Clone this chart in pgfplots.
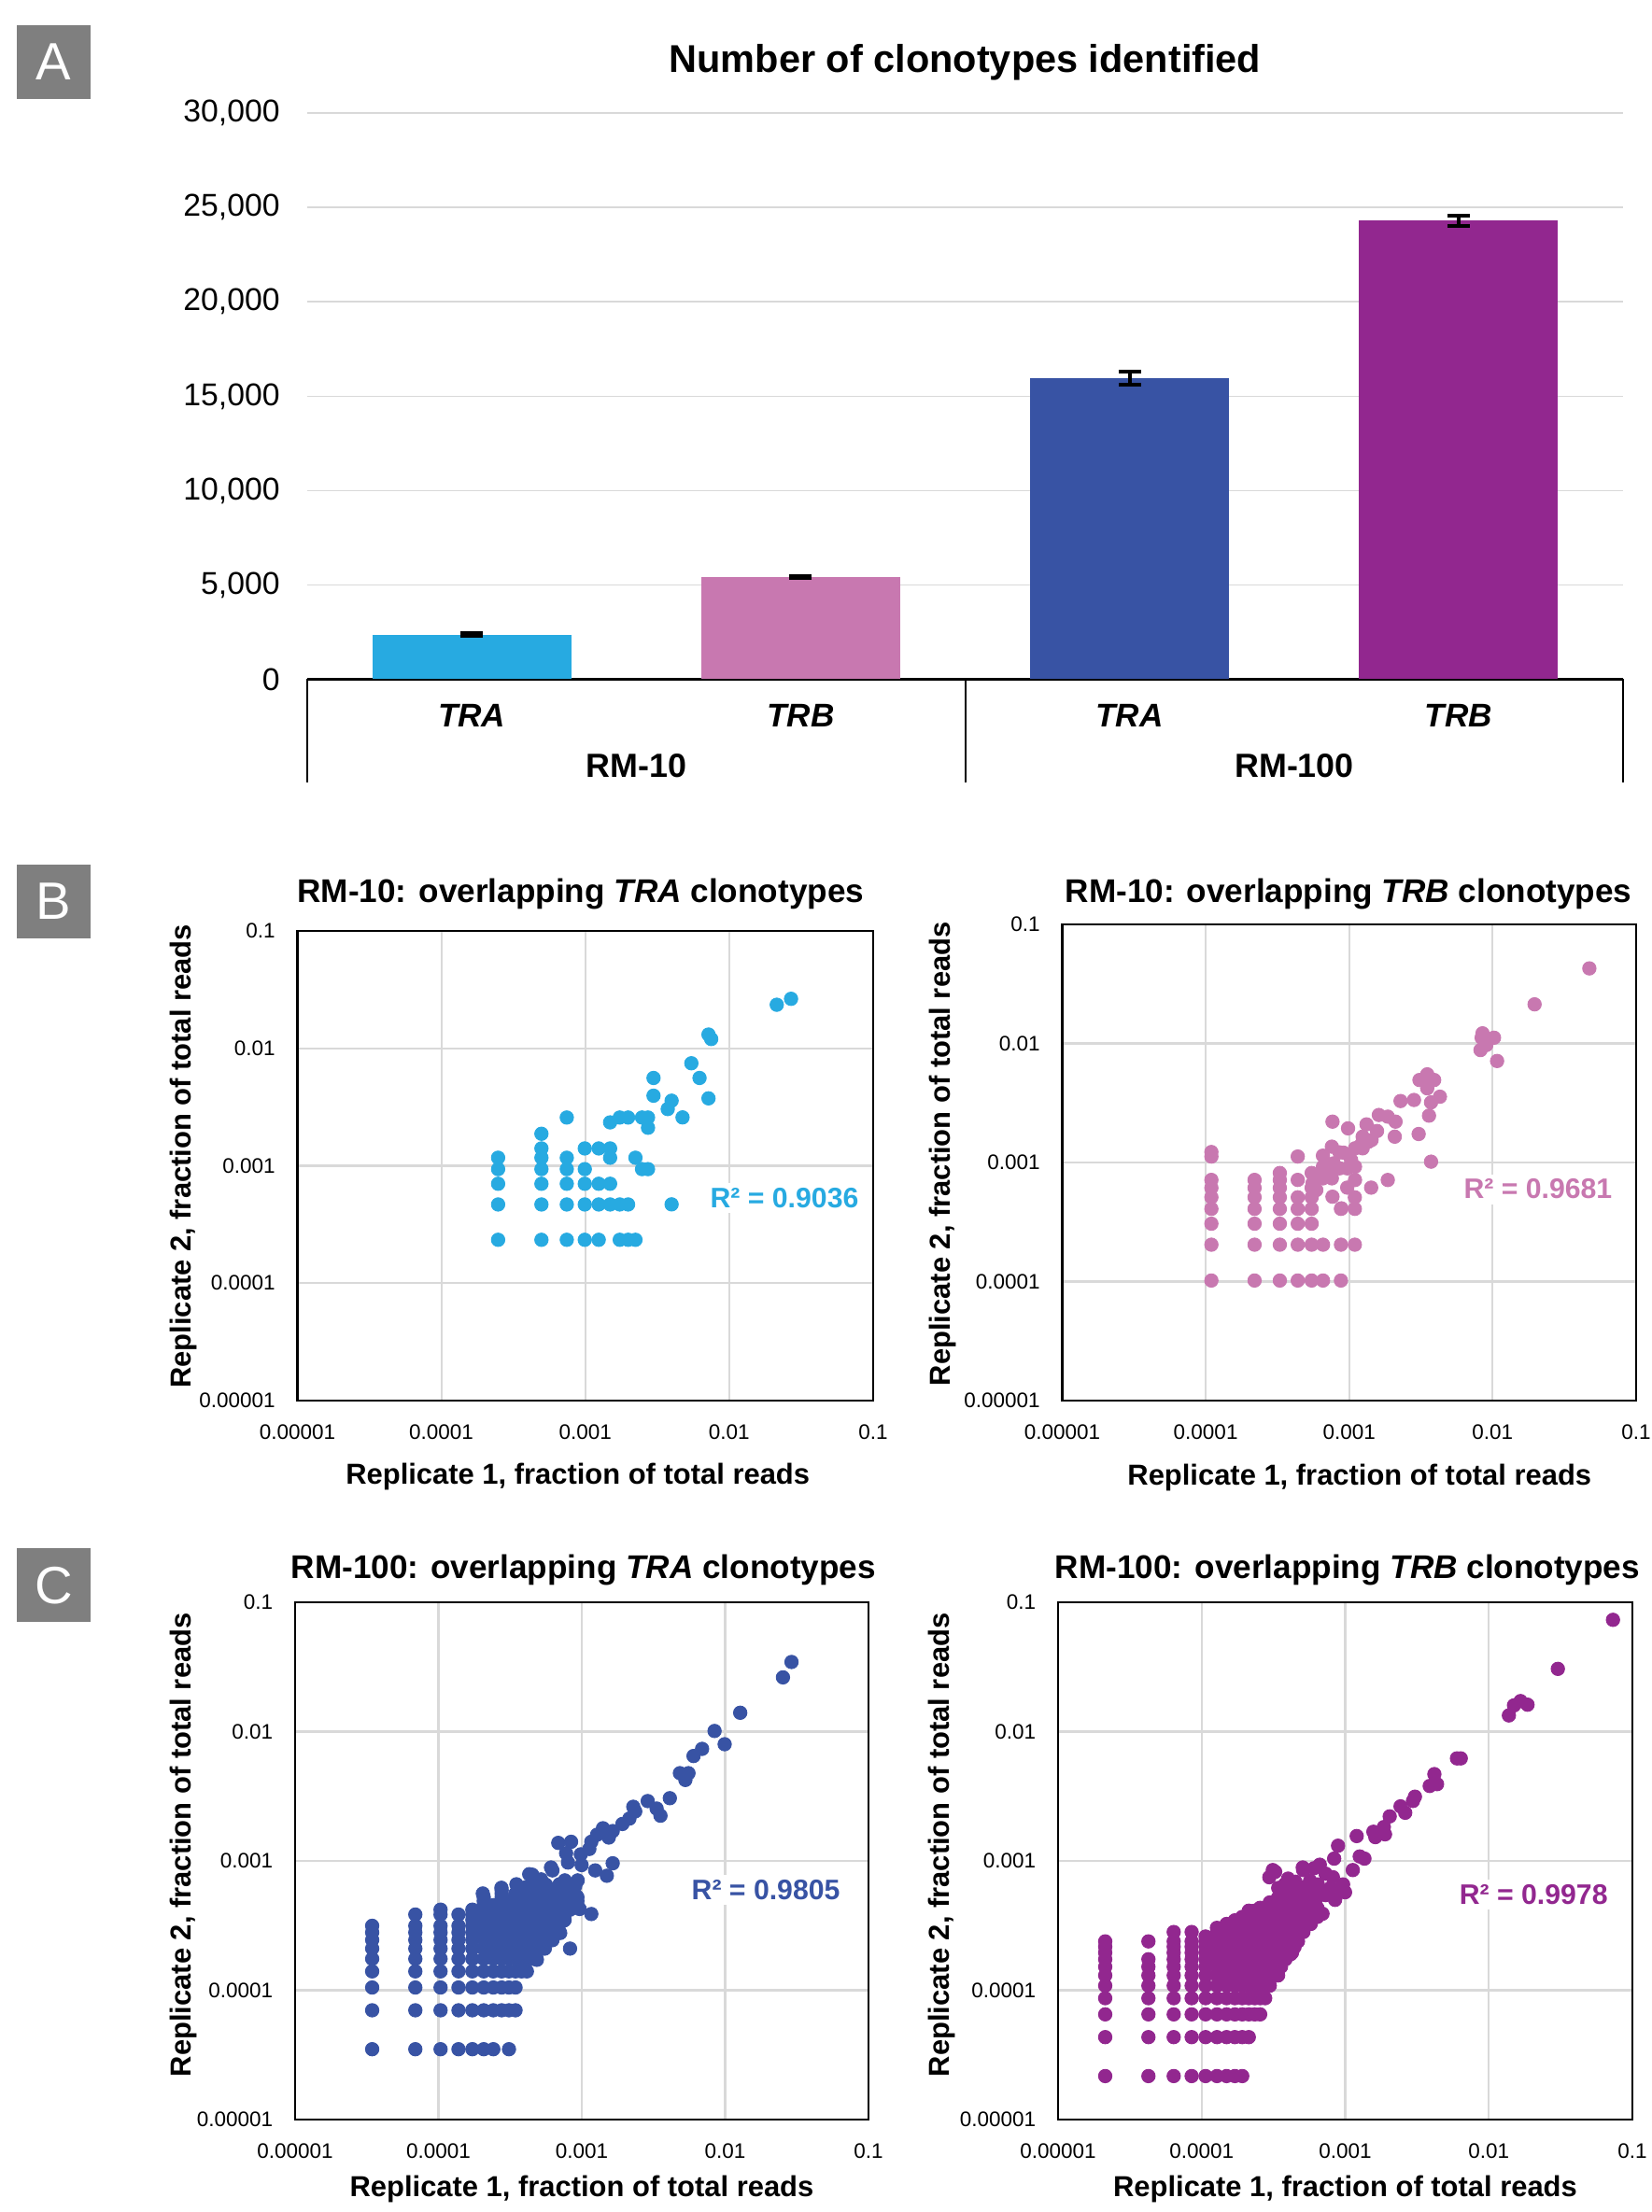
\documentclass[border=0pt]{standalone}
\usepackage{fontspec}
\setmainfont{Liberation Sans}
\usepackage{pgfplots}
\pgfplotsset{compat=1.18}
\definecolor{cA}{RGB}{39,170,225}
\definecolor{cB}{RGB}{200,120,176}
\definecolor{cC}{RGB}{56,83,164}
\definecolor{cD}{RGB}{146,39,143}
\definecolor{gridc}{RGB}{217,217,217}
\definecolor{boxg}{RGB}{127,127,127}
\newcommand{\fs}[1]{\fontsize{#1}{#1}\selectfont}
\pgfplotsset{
  myscat/.style={
    scale only axis,
    xmin=1e-5, xmax=0.1, ymin=1e-5, ymax=0.1,
    xtick={1e-5,1e-4,1e-3,1e-2,1e-1}, ytick={1e-5,1e-4,1e-3,1e-2,1e-1},
    xticklabels={0.00001,0.0001,0.001,0.01,0.1},
    yticklabels={0.00001,0.0001,0.001,0.01,0.1},
    grid=major, major grid style={draw=gridc, line width=0.6pt},
    axis line style={black, line width=0.6pt},
    major tick length=0pt, minor tick length=0pt,
    tick label style={font=\fs{6.4}},
    xticklabel style={yshift=-0.135cm},
    yticklabel style={xshift=-0.115cm},
    xlabel={Replicate 1, fraction of total reads},
    ylabel={Replicate 2, fraction of total reads},
    label style={font=\fs{8.8}\bfseries},
    every axis title shift=0pt,
    title style={font=\fs{10}\bfseries, anchor=center},
    xlabel style={anchor=center},
    ylabel style={anchor=center},
  },
  mydots/.style={only marks, mark=*, mark size=2.05pt, color=#1, mark options={fill=#1, draw=#1, line width=0.25pt}},
  mybar/.style={ybar, bar width=2.13cm, draw=none, fill=#1,
    error bars/y dir=both, error bars/y explicit,
    error bars/error bar style={draw=black, line width=1.2pt},
    error bars/error mark options={draw=black, line width=1.2pt, mark size=0.12cm, rotate=90}},
}
\begin{document}
\begin{tikzpicture}
\useasboundingbox (0,0) rectangle (17.69,23.69);
% panel letters
\node[fill=boxg, minimum width=0.79cm, minimum height=0.79cm, inner sep=0pt, text=white, font=\fs{16}] at (0.575,23.025) {A};
\node[fill=boxg, minimum width=0.79cm, minimum height=0.79cm, inner sep=0pt, text=white, font=\fs{16}] at (0.575,14.035) {B};
\node[fill=boxg, minimum width=0.79cm, minimum height=0.79cm, inner sep=0pt, text=white, font=\fs{16}] at (0.575,6.71) {C};
% ---------------- Panel A
\node[font=\fs{11.8}\bfseries] at (10.335,23.02) {Number of clonotypes identified};
\begin{axis}[at={(3.29cm,16.415cm)}, anchor=south west, scale only axis,
  width=14.09cm, height=6.062cm,
  xmin=-0.5, xmax=3.5, ymin=0, ymax=30000,
  xtick={0,1,2,3}, xticklabels={TRA,TRB,TRA,TRB},
  ytick={0,5000,10000,15000,20000,25000,30000},
  yticklabels={0,{5,000},{10,000},{15,000},{20,000},{25,000},{30,000}},
  scaled y ticks=false,
  axis x line*=bottom, axis y line*=left,
  y axis line style={draw=none},
  x axis line style={black, line width=0.6pt},
  major tick length=0pt,
  ymajorgrids, major grid style={draw=gridc, line width=0.5pt},
  xticklabel style={font=\fs{10}\bfseries\itshape, yshift=-0.145cm},
  yticklabel style={font=\fs{9.6}, xshift=-0.17cm},
  clip=false]
\addplot[mybar=cA] coordinates {(0,2370) +- (0,50)};
\addplot[mybar=cB] coordinates {(1,5420) +- (0,50)};
\addplot[mybar=cC] coordinates {(2,15950) +- (0,340)};
\addplot[mybar=cD] coordinates {(3,24300) +- (0,270)};
\end{axis}
\draw[black, line width=0.5pt] (3.29,16.415) -- (3.29,15.31);
\draw[black, line width=0.5pt] (10.34,16.415) -- (10.34,15.31);
\draw[black, line width=0.5pt] (17.38,16.415) -- (17.38,15.31);
\node[font=\fs{10.2}\bfseries] at (6.815,15.49) {RM-10};
\node[font=\fs{10.2}\bfseries] at (13.86,15.49) {RM-100};
% ---------------- Panel B left
\begin{axis}[xmode=log, ymode=log, myscat, at={(3.185cm,8.69cm)}, anchor=south west, width=6.165cm, height=5.03cm,
  title={RM-10: overlapping \textit{TRA} clonotypes},
  title style={at={(axis description cs:0.492,1.078)}},
  xlabel style={at={(axis description cs:0.487,-0.163)}},
  ylabel style={at={(axis description cs:-0.198,0.52)}}]
\addplot[mydots=cA] coordinates {
(2.48e-4,2.34e-4) (2.48e-4,4.68e-4) (2.48e-4,7.02e-4) (2.48e-4,9.36e-4) (2.48e-4,1.17e-3)
(4.96e-4,2.34e-4) (4.96e-4,4.68e-4) (4.96e-4,7.02e-4) (4.96e-4,9.36e-4) (4.96e-4,1.17e-3) (4.96e-4,1.404e-3) (4.96e-4,1.872e-3)
(7.44e-4,2.34e-4) (7.44e-4,4.68e-4) (7.44e-4,7.02e-4) (7.44e-4,9.36e-4) (7.44e-4,1.17e-3) (7.44e-4,2.574e-3)
(9.92e-4,2.34e-4) (9.92e-4,4.68e-4) (9.92e-4,7.02e-4) (9.92e-4,9.36e-4) (9.92e-4,1.404e-3)
(1.24e-3,2.34e-4) (1.24e-3,4.68e-4) (1.24e-3,7.02e-4) (1.24e-3,1.404e-3)
(1.488e-3,4.68e-4) (1.488e-3,7.02e-4) (1.488e-3,1.17e-3) (1.488e-3,1.404e-3) (1.488e-3,2.34e-3)
(1.736e-3,2.34e-4) (1.736e-3,4.68e-4) (1.736e-3,2.574e-3)
(1.984e-3,2.34e-4) (1.984e-3,4.68e-4) (1.984e-3,2.574e-3)
(2.232e-3,2.34e-4) (2.232e-3,1.17e-3)
(2.48e-3,9.36e-4) (2.48e-3,2.574e-3)
(2.728e-3,9.36e-4) (2.728e-3,2.106e-3) (2.728e-3,2.574e-3)
(2.98e-3,5.59e-3) (2.98e-3,3.95e-3) (3.98e-3,3.58e-3) (3.74e-3,3.04e-3) (4.74e-3,2.58e-3) (3.98e-3,4.69e-4)
(5.46e-3,7.46e-3) (6.22e-3,5.59e-3) (7.18e-3,3.75e-3) (7.18e-3,1.31e-2) (7.5e-3,1.2e-2) (2.14e-2,2.35e-2) (2.69e-2,2.64e-2)
};
\node[fill=white, inner sep=1.5pt, text=cA, font=\fs{8.6}\bfseries] at (rel axis cs:0.846,0.431) {R² = 0.9036};
\end{axis}
% ---------------- Panel B right
\begin{axis}[xmode=log, ymode=log, myscat, at={(11.375cm,8.69cm)}, anchor=south west, width=6.145cm, height=5.10cm,
  title={RM-10: overlapping \textit{TRB} clonotypes},
  title style={at={(axis description cs:0.499,1.063)}},
  xlabel style={at={(axis description cs:0.518,-0.161)}},
  ylabel style={at={(axis description cs:-0.209,0.518)}}]
\addplot[mydots=cB] coordinates {
(1.095e-4,1.02e-4) (1.095e-4,2.04e-4) (1.095e-4,3.06e-4) (1.095e-4,4.08e-4) (1.095e-4,5.1e-4) (1.095e-4,6.12e-4) (1.095e-4,7.14e-4) (1.095e-4,1.122e-3) (1.095e-4,1.224e-3)
(2.19e-4,1.02e-4) (2.19e-4,2.04e-4) (2.19e-4,3.06e-4) (2.19e-4,4.08e-4) (2.19e-4,5.1e-4) (2.19e-4,6.12e-4) (2.19e-4,7.14e-4)
(3.285e-4,1.02e-4) (3.285e-4,2.04e-4) (3.285e-4,3.06e-4) (3.285e-4,4.08e-4) (3.285e-4,5.1e-4) (3.285e-4,6.12e-4) (3.285e-4,7.14e-4) (3.285e-4,8.16e-4)
(4.38e-4,1.02e-4) (4.38e-4,2.04e-4) (4.38e-4,3.06e-4) (4.38e-4,4.08e-4) (4.38e-4,5.1e-4) (4.38e-4,7.14e-4) (4.38e-4,1.122e-3)
(5.475e-4,1.02e-4) (5.475e-4,2.04e-4) (5.475e-4,3.06e-4) (5.475e-4,4.08e-4) (5.475e-4,5.1e-4) (5.475e-4,6.12e-4) (5.475e-4,8.16e-4)
(6.57e-4,1.02e-4) (6.57e-4,2.04e-4)
(8.76e-4,1.02e-4) (8.76e-4,2.04e-4) (8.76e-4,4.08e-4)
(1.095e-3,2.04e-4) (1.095e-3,4.08e-4) (1.095e-3,5.1e-4)
(6.56e-4,1.141e-3) (7.57e-4,9.22e-4) (7.57e-4,7.36e-4) (8.56e-4,8.93e-4) (9.11e-4,1.21e-3) (7.57e-4,1.358e-3)
(8.56e-4,1.217e-3) (9.82e-4,1.936e-3) (1.098e-3,1.315e-3) (1.098e-3,9.22e-4) (1.098e-3,7.13e-4) (9.69e-4,6.15e-4)
(7.65e-4,5.16e-4) (8.83e-4,4.12e-4) (1.205e-3,1.403e-3) (1.321e-3,2.09e-3) (1.432e-3,1.545e-3) (1.563e-3,1.838e-3)
(1.241e-3,1.648e-3) (1.61e-3,2.506e-3) (1.858e-3,2.427e-3) (2.104e-3,2.203e-3) (2.078e-3,1.648e-3) (7.65e-4,2.203e-3)
(1.423e-3,6.15e-4) (1.858e-3,7.13e-4) (3.05e-3,1.735e-3) (2.28e-3,3.284e-3) (2.83e-3,3.35e-3) (3.09e-3,4.93e-3)
(3.5e-3,5.5e-3) (3.91e-3,4.93e-3) (3.5e-3,4.2e-3) (3.72e-3,3.2e-3) (4.29e-3,3.57e-3) (3.6e-3,2.474e-3)
(3.72e-3,1.016e-3) (8.38e-3,1.117e-2) (1.022e-2,1.117e-2) (9.03e-3,9.7e-3) (8.23e-3,8.8e-3) (8.5e-3,1.216e-2)
(1.074e-2,7.12e-3) (1.96e-2,2.13e-2) (4.72e-2,4.27e-2) (6.56e-4,7.36e-4) (5.55e-4,6.68e-4) (5.9e-4,5.87e-4)
(6.6e-4,8.27e-4) (7.11e-4,7.85e-4) (6.56e-4,9.22e-4) (7.8e-4,9.84e-4) (1.031e-3,1.05e-3) (1.363e-3,1.496e-3)
(1.241e-3,1.315e-3) (9.69e-4,8.93e-4)
};
\node[fill=white, inner sep=1.5pt, text=cB, font=\fs{8.6}\bfseries] at (rel axis cs:0.829,0.444) {R² = 0.9681};
\end{axis}
% ---------------- Panel C left
\begin{axis}[xmode=log, ymode=log, myscat, at={(3.16cm,0.99cm)}, anchor=south west, width=6.14cm, height=5.54cm,
  title={RM-100: overlapping \textit{TRA} clonotypes},
  title style={at={(axis description cs:0.503,1.063)}},
  xlabel style={at={(axis description cs:0.5,-0.135)}},
  ylabel style={at={(axis description cs:-0.195,0.531)}}]
\addplot[mydots=cC] coordinates {
(3.45e-5,3.5e-5) (3.45e-5,7e-5) (3.45e-5,1.05e-4) (3.45e-5,1.4e-4) (3.45e-5,1.75e-4) (3.45e-5,2.1e-4) (3.45e-5,2.45e-4) (3.45e-5,2.8e-4) (3.45e-5,3.15e-4)
(6.9e-5,3.5e-5) (6.9e-5,7e-5) (6.9e-5,1.05e-4) (6.9e-5,1.4e-4) (6.9e-5,1.75e-4) (6.9e-5,2.1e-4) (6.9e-5,2.45e-4) (6.9e-5,2.8e-4) (6.9e-5,3.15e-4) (6.9e-5,3.85e-4)
(1.035e-4,3.5e-5) (1.035e-4,7e-5) (1.035e-4,1.05e-4) (1.035e-4,1.4e-4) (1.035e-4,1.75e-4) (1.035e-4,2.1e-4) (1.035e-4,2.45e-4) (1.035e-4,2.8e-4) (1.035e-4,3.15e-4) (1.035e-4,3.85e-4) (1.035e-4,4.2e-4)
(1.38e-4,3.5e-5) (1.38e-4,7e-5) (1.38e-4,1.05e-4) (1.38e-4,1.4e-4) (1.38e-4,1.75e-4) (1.38e-4,2.1e-4) (1.38e-4,2.45e-4) (1.38e-4,2.8e-4) (1.38e-4,3.15e-4) (1.38e-4,3.85e-4)
(1.725e-4,3.5e-5) (1.725e-4,7e-5) (1.725e-4,1.05e-4) (1.725e-4,1.4e-4) (1.725e-4,1.75e-4) (1.725e-4,2.1e-4) (1.725e-4,2.45e-4) (1.725e-4,2.8e-4) (1.725e-4,3.15e-4) (1.725e-4,3.5e-4) (1.725e-4,3.85e-4) (1.725e-4,4.2e-4)
(2.07e-4,3.5e-5) (2.07e-4,7e-5) (2.07e-4,1.05e-4) (2.07e-4,1.4e-4) (2.07e-4,1.75e-4) (2.07e-4,2.1e-4) (2.07e-4,2.45e-4) (2.07e-4,2.8e-4) (2.07e-4,3.15e-4) (2.07e-4,3.5e-4) (2.07e-4,3.85e-4) (2.07e-4,4.2e-4) (2.07e-4,4.55e-4) (2.07e-4,4.9e-4) (2.07e-4,5.25e-4)
(2.415e-4,3.5e-5) (2.415e-4,7e-5) (2.415e-4,1.05e-4) (2.415e-4,1.4e-4) (2.415e-4,1.75e-4) (2.415e-4,2.1e-4) (2.415e-4,2.45e-4) (2.415e-4,2.8e-4) (2.415e-4,3.15e-4) (2.415e-4,3.5e-4) (2.415e-4,3.85e-4) (2.415e-4,4.2e-4) (2.415e-4,4.55e-4)
(2.76e-4,7e-5) (2.76e-4,1.05e-4) (2.76e-4,1.4e-4) (2.76e-4,1.75e-4) (2.76e-4,2.1e-4) (2.76e-4,2.45e-4) (2.76e-4,2.8e-4) (2.76e-4,3.15e-4) (2.76e-4,3.5e-4) (2.76e-4,3.85e-4) (2.76e-4,4.2e-4) (2.76e-4,4.55e-4) (2.76e-4,4.9e-4) (2.76e-4,5.25e-4) (2.76e-4,5.6e-4) (2.76e-4,5.95e-4)
(3.105e-4,3.5e-5) (3.105e-4,7e-5) (3.105e-4,1.05e-4) (3.105e-4,1.4e-4) (3.105e-4,1.75e-4) (3.105e-4,2.1e-4) (3.105e-4,2.45e-4) (3.105e-4,2.8e-4) (3.105e-4,3.15e-4) (3.105e-4,3.5e-4) (3.105e-4,3.85e-4) (3.105e-4,4.2e-4) (3.105e-4,4.55e-4) (3.105e-4,4.9e-4)
(3.45e-4,7e-5) (3.45e-4,1.05e-4) (3.45e-4,1.4e-4) (3.45e-4,1.75e-4) (3.45e-4,2.1e-4) (3.45e-4,2.45e-4) (3.45e-4,2.8e-4) (3.45e-4,3.15e-4) (3.45e-4,3.5e-4) (3.45e-4,3.85e-4) (3.45e-4,4.2e-4) (3.45e-4,4.55e-4) (3.45e-4,4.9e-4) (3.45e-4,5.25e-4) (3.45e-4,5.6e-4)
(3.795e-4,1.4e-4) (3.795e-4,1.75e-4) (3.795e-4,2.1e-4) (3.795e-4,2.45e-4) (3.795e-4,2.8e-4) (3.795e-4,3.15e-4) (3.795e-4,3.5e-4) (3.795e-4,3.85e-4) (3.795e-4,4.2e-4) (3.795e-4,4.55e-4) (3.795e-4,4.9e-4) (3.795e-4,5.25e-4) (3.795e-4,5.6e-4) (3.795e-4,5.95e-4)
(4.14e-4,1.4e-4) (4.14e-4,1.75e-4) (4.14e-4,2.1e-4) (4.14e-4,2.45e-4) (4.14e-4,2.8e-4) (4.14e-4,3.15e-4) (4.14e-4,3.5e-4) (4.14e-4,3.85e-4) (4.14e-4,4.2e-4) (4.14e-4,4.55e-4) (4.14e-4,4.9e-4) (4.14e-4,5.25e-4) (4.14e-4,5.6e-4) (4.14e-4,5.95e-4) (4.14e-4,6.3e-4)
(4.485e-4,1.75e-4) (4.485e-4,2.1e-4) (4.485e-4,2.45e-4) (4.485e-4,2.8e-4) (4.485e-4,3.15e-4) (4.485e-4,3.5e-4) (4.485e-4,3.85e-4) (4.485e-4,4.2e-4) (4.485e-4,4.55e-4) (4.485e-4,4.9e-4) (4.485e-4,5.25e-4) (4.485e-4,5.6e-4) (4.485e-4,5.95e-4) (4.485e-4,6.3e-4)
(4.83e-4,1.75e-4) (4.83e-4,2.1e-4) (4.83e-4,2.45e-4) (4.83e-4,2.8e-4) (4.83e-4,3.15e-4) (4.83e-4,3.5e-4) (4.83e-4,3.85e-4) (4.83e-4,4.2e-4) (4.83e-4,4.55e-4) (4.83e-4,4.9e-4) (4.83e-4,5.25e-4) (4.83e-4,5.6e-4) (4.83e-4,5.95e-4) (4.83e-4,6.3e-4)
(5.52e-4,2.1e-4) (5.52e-4,2.45e-4) (5.52e-4,2.8e-4) (5.52e-4,3.15e-4) (5.52e-4,3.5e-4) (5.52e-4,3.85e-4) (5.52e-4,4.2e-4) (5.52e-4,4.55e-4) (5.52e-4,4.9e-4) (5.52e-4,5.25e-4) (5.52e-4,5.6e-4) (5.52e-4,5.95e-4) (5.52e-4,6.3e-4)
(6.21e-4,2.45e-4) (6.21e-4,2.8e-4) (6.21e-4,3.15e-4) (6.21e-4,3.5e-4) (6.21e-4,3.85e-4) (6.21e-4,4.2e-4) (6.21e-4,4.55e-4) (6.21e-4,4.9e-4) (6.21e-4,5.25e-4) (6.21e-4,5.6e-4) (6.21e-4,5.95e-4)
(6.9e-4,2.8e-4) (6.9e-4,3.15e-4) (6.9e-4,3.5e-4) (6.9e-4,3.85e-4) (6.9e-4,4.2e-4) (6.9e-4,4.55e-4) (6.9e-4,4.9e-4) (6.9e-4,5.25e-4) (6.9e-4,5.6e-4) (6.9e-4,5.95e-4)
(7.59e-4,3.5e-4) (7.59e-4,3.85e-4) (7.59e-4,4.2e-4) (7.59e-4,4.55e-4) (7.59e-4,4.9e-4) (7.59e-4,5.25e-4) (7.59e-4,5.6e-4)
(8.28e-4,4.2e-4) (8.28e-4,4.55e-4) (8.28e-4,4.9e-4) (8.28e-4,5.25e-4) (8.28e-4,5.6e-4) (8.28e-4,2.1e-4)
(9.315e-4,4.55e-4) (9.315e-4,4.9e-4) (9.315e-4,5.25e-4)
(4.3e-4,7.9e-4) (6.1e-4,8.9e-4) (2.75e-4,6.2e-4) (2.04e-4,5.6e-4) (5.2e-4,7.2e-4) (3.5e-4,6.6e-4) (7.0e-4,6.6e-4) (8.0e-4,6.3e-4) (5.0e-4,6.4e-4) (9.0e-4,6.4e-4)
(2.904e-2,3.455e-2) (2.531e-2,2.627e-2) (1.274e-2,1.399e-2) (8.435e-3,1.011e-2) (9.92e-3,7.99e-3) (6.907e-3,7.355e-3)
(6.02e-3,6.475e-3) (4.838e-3,4.771e-3) (5.55e-3,4.771e-3) (5.28e-3,4.227e-3) (4.113e-3,3.056e-3) (2.883e-3,2.904e-3)
(3.327e-3,2.541e-3) (3.54e-3,2.237e-3) (2.287e-3,2.623e-3) (2.36e-3,2.415e-3) (2.149e-3,2.126e-3) (1.92e-3,1.932e-3)
(1.643e-3,1.701e-3) (1.405e-3,1.79e-3) (1.543e-3,1.517e-3) (1.279e-3,1.596e-3) (1.165e-3,1.406e-3) (1.129e-3,1.238e-3)
(9.84e-4,1.125e-3) (8.42e-4,1.406e-3) (6.855e-4,1.379e-3) (7.77e-4,1.147e-3) (8.01e-4,9.72e-4) (9.97e-4,9.29e-4)
(1.24e-3,8.45e-4) (1.496e-3,7.68e-4) (1.643e-3,9.59e-4) (9.365e-4,7.07e-4) (7.62e-4,7.07e-4) (6.24e-4,8.45e-4)
(4.51e-4,7.83e-4) (5.614e-4,6.55e-4) (6.24e-4,5.95e-4) (9.08e-4,5.41e-4) (9.66e-4,4.25e-4) (1.165e-3,3.886e-4)
(3.907e-4,5.77e-4) (4.86e-4,5.48e-4) (5.86e-4,5.24e-4) (7.525e-4,3.465e-4) (7.07e-4,2.773e-4) (6.24e-4,2.442e-4)
(5.175e-4,2.083e-4) (4.86e-4,1.72e-4)
};
\node[fill=white, inner sep=1.5pt, text=cC, font=\fs{8.6}\bfseries] at (rel axis cs:0.821,0.444) {R² = 0.9805};
\end{axis}
% ---------------- Panel C right
\begin{axis}[xmode=log, ymode=log, myscat, at={(11.33cm,0.99cm)}, anchor=south west, width=6.15cm, height=5.54cm,
  title={RM-100: overlapping \textit{TRB} clonotypes},
  title style={at={(axis description cs:0.504,1.063)}},
  xlabel style={at={(axis description cs:0.5,-0.135)}},
  ylabel style={at={(axis description cs:-0.202,0.531)}}]
\addplot[mydots=cD] coordinates {
(2.13e-5,2.17e-5) (2.13e-5,4.34e-5) (2.13e-5,6.51e-5) (2.13e-5,8.68e-5) (2.13e-5,1.085e-4) (2.13e-5,1.302e-4) (2.13e-5,1.519e-4) (2.13e-5,1.736e-4) (2.13e-5,1.953e-4) (2.13e-5,2.17e-4) (2.13e-5,2.387e-4)
(4.26e-5,2.17e-5) (4.26e-5,4.34e-5) (4.26e-5,6.51e-5) (4.26e-5,8.68e-5) (4.26e-5,1.085e-4) (4.26e-5,1.302e-4) (4.26e-5,1.519e-4) (4.26e-5,1.736e-4) (4.26e-5,2.387e-4)
(6.39e-5,2.17e-5) (6.39e-5,4.34e-5) (6.39e-5,6.51e-5) (6.39e-5,8.68e-5) (6.39e-5,1.085e-4) (6.39e-5,1.302e-4) (6.39e-5,1.519e-4) (6.39e-5,1.736e-4) (6.39e-5,1.953e-4) (6.39e-5,2.17e-4) (6.39e-5,2.387e-4) (6.39e-5,2.821e-4)
(8.52e-5,2.17e-5) (8.52e-5,4.34e-5) (8.52e-5,6.51e-5) (8.52e-5,8.68e-5) (8.52e-5,1.085e-4) (8.52e-5,1.302e-4) (8.52e-5,1.519e-4) (8.52e-5,1.736e-4) (8.52e-5,1.953e-4) (8.52e-5,2.17e-4) (8.52e-5,2.387e-4) (8.52e-5,2.821e-4)
(1.065e-4,2.17e-5) (1.065e-4,4.34e-5) (1.065e-4,6.51e-5) (1.065e-4,8.68e-5) (1.065e-4,1.085e-4) (1.065e-4,1.302e-4) (1.065e-4,1.519e-4) (1.065e-4,1.736e-4) (1.065e-4,1.953e-4) (1.065e-4,2.17e-4) (1.065e-4,2.387e-4) (1.065e-4,2.604e-4)
(1.278e-4,2.17e-5) (1.278e-4,4.34e-5) (1.278e-4,6.51e-5) (1.278e-4,8.68e-5) (1.278e-4,1.085e-4) (1.278e-4,1.302e-4) (1.278e-4,1.519e-4) (1.278e-4,1.736e-4) (1.278e-4,1.953e-4) (1.278e-4,2.17e-4) (1.278e-4,2.387e-4) (1.278e-4,2.604e-4) (1.278e-4,2.821e-4) (1.278e-4,3.038e-4)
(1.491e-4,2.17e-5) (1.491e-4,4.34e-5) (1.491e-4,6.51e-5) (1.491e-4,8.68e-5) (1.491e-4,1.085e-4) (1.491e-4,1.302e-4) (1.491e-4,1.519e-4) (1.491e-4,1.736e-4) (1.491e-4,1.953e-4) (1.491e-4,2.17e-4) (1.491e-4,2.387e-4) (1.491e-4,2.604e-4) (1.491e-4,2.821e-4) (1.491e-4,3.038e-4) (1.491e-4,3.255e-4)
(1.704e-4,2.17e-5) (1.704e-4,4.34e-5) (1.704e-4,6.51e-5) (1.704e-4,8.68e-5) (1.704e-4,1.085e-4) (1.704e-4,1.302e-4) (1.704e-4,1.519e-4) (1.704e-4,1.736e-4) (1.704e-4,1.953e-4) (1.704e-4,2.17e-4) (1.704e-4,2.387e-4) (1.704e-4,2.604e-4) (1.704e-4,2.821e-4) (1.704e-4,3.038e-4) (1.704e-4,3.255e-4) (1.704e-4,3.472e-4)
(1.917e-4,2.17e-5) (1.917e-4,4.34e-5) (1.917e-4,6.51e-5) (1.917e-4,8.68e-5) (1.917e-4,1.085e-4) (1.917e-4,1.302e-4) (1.917e-4,1.519e-4) (1.917e-4,1.736e-4) (1.917e-4,1.953e-4) (1.917e-4,2.17e-4) (1.917e-4,2.387e-4) (1.917e-4,2.604e-4) (1.917e-4,2.821e-4) (1.917e-4,3.038e-4) (1.917e-4,3.255e-4) (1.917e-4,3.472e-4) (1.917e-4,3.689e-4)
(2.13e-4,4.34e-5) (2.13e-4,6.51e-5) (2.13e-4,8.68e-5) (2.13e-4,1.085e-4) (2.13e-4,1.302e-4) (2.13e-4,1.519e-4) (2.13e-4,1.736e-4) (2.13e-4,1.953e-4) (2.13e-4,2.17e-4) (2.13e-4,2.387e-4) (2.13e-4,2.604e-4) (2.13e-4,2.821e-4) (2.13e-4,3.038e-4) (2.13e-4,3.255e-4) (2.13e-4,3.472e-4) (2.13e-4,3.689e-4) (2.13e-4,3.906e-4) (2.13e-4,4.123e-4)
(2.343e-4,6.51e-5) (2.343e-4,8.68e-5) (2.343e-4,1.085e-4) (2.343e-4,1.302e-4) (2.343e-4,1.519e-4) (2.343e-4,1.736e-4) (2.343e-4,1.953e-4) (2.343e-4,2.17e-4) (2.343e-4,2.387e-4) (2.343e-4,2.604e-4) (2.343e-4,2.821e-4) (2.343e-4,3.038e-4) (2.343e-4,3.255e-4) (2.343e-4,3.472e-4) (2.343e-4,3.689e-4) (2.343e-4,3.906e-4) (2.343e-4,4.123e-4)
(2.556e-4,6.51e-5) (2.556e-4,8.68e-5) (2.556e-4,1.085e-4) (2.556e-4,1.302e-4) (2.556e-4,1.519e-4) (2.556e-4,1.736e-4) (2.556e-4,1.953e-4) (2.556e-4,2.17e-4) (2.556e-4,2.387e-4) (2.556e-4,2.604e-4) (2.556e-4,2.821e-4) (2.556e-4,3.038e-4) (2.556e-4,3.255e-4) (2.556e-4,3.472e-4) (2.556e-4,3.689e-4) (2.556e-4,3.906e-4) (2.556e-4,4.123e-4) (2.556e-4,4.34e-4)
(2.769e-4,8.68e-5) (2.769e-4,1.085e-4) (2.769e-4,1.302e-4) (2.769e-4,1.519e-4) (2.769e-4,1.736e-4) (2.769e-4,1.953e-4) (2.769e-4,2.17e-4) (2.769e-4,2.387e-4) (2.769e-4,2.604e-4) (2.769e-4,2.821e-4) (2.769e-4,3.038e-4) (2.769e-4,3.255e-4) (2.769e-4,3.472e-4) (2.769e-4,3.689e-4) (2.769e-4,3.906e-4) (2.769e-4,4.123e-4) (2.769e-4,4.34e-4)
(2.982e-4,1.085e-4) (2.982e-4,1.302e-4) (2.982e-4,1.519e-4) (2.982e-4,1.736e-4) (2.982e-4,1.953e-4) (2.982e-4,2.17e-4) (2.982e-4,2.387e-4) (2.982e-4,2.604e-4) (2.982e-4,2.821e-4) (2.982e-4,3.038e-4) (2.982e-4,3.255e-4) (2.982e-4,3.472e-4) (2.982e-4,3.689e-4) (2.982e-4,3.906e-4) (2.982e-4,4.123e-4) (2.982e-4,4.34e-4) (2.982e-4,4.774e-4)
(3.408e-4,1.302e-4) (3.408e-4,1.519e-4) (3.408e-4,1.736e-4) (3.408e-4,1.953e-4) (3.408e-4,2.17e-4) (3.408e-4,2.387e-4) (3.408e-4,2.604e-4) (3.408e-4,2.821e-4) (3.408e-4,3.038e-4) (3.408e-4,3.255e-4) (3.408e-4,3.472e-4) (3.408e-4,3.689e-4) (3.408e-4,3.906e-4) (3.408e-4,4.123e-4) (3.408e-4,4.34e-4) (3.408e-4,4.774e-4) (3.408e-4,5.208e-4)
(3.834e-4,1.736e-4) (3.834e-4,1.953e-4) (3.834e-4,2.17e-4) (3.834e-4,2.387e-4) (3.834e-4,2.604e-4) (3.834e-4,2.821e-4) (3.834e-4,3.038e-4) (3.834e-4,3.255e-4) (3.834e-4,3.472e-4) (3.834e-4,3.689e-4) (3.834e-4,3.906e-4) (3.834e-4,4.123e-4) (3.834e-4,4.34e-4) (3.834e-4,4.774e-4) (3.834e-4,5.208e-4)
(4.26e-4,1.953e-4) (4.26e-4,2.17e-4) (4.26e-4,2.387e-4) (4.26e-4,2.604e-4) (4.26e-4,2.821e-4) (4.26e-4,3.038e-4) (4.26e-4,3.255e-4) (4.26e-4,3.472e-4) (4.26e-4,3.689e-4) (4.26e-4,3.906e-4) (4.26e-4,4.123e-4) (4.26e-4,4.34e-4) (4.26e-4,4.774e-4) (4.26e-4,5.208e-4)
(4.686e-4,2.387e-4) (4.686e-4,2.604e-4) (4.686e-4,2.821e-4) (4.686e-4,3.038e-4) (4.686e-4,3.255e-4) (4.686e-4,3.472e-4) (4.686e-4,3.689e-4) (4.686e-4,3.906e-4) (4.686e-4,4.123e-4) (4.686e-4,4.34e-4) (4.686e-4,4.774e-4) (4.686e-4,5.208e-4)
(5.112e-4,2.821e-4) (5.112e-4,3.038e-4) (5.112e-4,3.255e-4) (5.112e-4,3.472e-4) (5.112e-4,3.689e-4) (5.112e-4,3.906e-4) (5.112e-4,4.123e-4) (5.112e-4,4.34e-4) (5.112e-4,4.774e-4)
(5.751e-4,3.255e-4) (5.751e-4,3.472e-4) (5.751e-4,3.689e-4) (5.751e-4,3.906e-4) (5.751e-4,4.123e-4) (5.751e-4,4.34e-4) (5.751e-4,4.774e-4)
(6.39e-4,3.689e-4) (6.39e-4,3.906e-4) (6.39e-4,4.123e-4) (6.39e-4,4.34e-4)
(3.8e-4,6.6e-4) (4.5e-4,6.9e-4) (5.3e-4,6.3e-4) (5.9e-4,5.9e-4) (4.0e-4,7.3e-4) (6.9e-4,5.6e-4) (7.9e-4,6.2e-4) (8.5e-4,5.0e-4)
(9.5e-4,5.9e-4) (4.4e-4,5.5e-4) (5.5e-4,5.4e-4) (6.2e-4,5.0e-4) (3.13e-4,8.5e-4) (5.06e-4,8.9e-4)
(7.323e-2,7.316e-2) (3.025e-2,3.056e-2) (1.861e-2,1.615e-2) (1.664e-2,1.722e-2) (1.497e-2,1.595e-2) (1.38e-2,1.334e-2)
(6.376e-3,6.21e-3) (6.0e-3,6.21e-3) (4.176e-3,4.692e-3) (4.36e-3,3.925e-3) (3.876e-3,3.801e-3) (3.058e-3,3.14e-3)
(2.963e-3,2.909e-3) (2.617e-3,2.357e-3) (2.428e-3,2.643e-3) (2.04e-3,2.211e-3) (1.858e-3,1.827e-3) (1.893e-3,1.607e-3)
(1.621e-3,1.528e-3) (1.571e-3,1.681e-3) (1.202e-3,1.557e-3) (1.361e-3,1.042e-3) (1.262e-3,1.083e-3) (1.129e-3,8.5e-4)
(8.913e-4,1.311e-3) (8.375e-4,1.042e-3) (6.65e-4,9.35e-4) (6.056e-4,8.776e-4) (5.09e-4,8.5e-4) (3.25e-4,8.233e-4)
(2.96e-4,7.482e-4) (3.416e-4,6.18e-4) (4.169e-4,5.797e-4) (4.872e-4,5.872e-4) (6.445e-4,6.584e-4) (7.3e-4,5.44e-4)
(9.66e-4,6.584e-4) (9.97e-4,5.724e-4) (6.946e-4,3.905e-4) (5.69e-4,4.79e-4) (4.436e-4,2.159e-4) (4.169e-4,1.901e-4)
(3.568e-4,1.52e-4) (7.3e-4,7.97e-4) (8.2e-4,7.48e-4) (5.69e-4,7.02e-4)
};
\node[fill=white, inner sep=1.5pt, text=cD, font=\fs{8.6}\bfseries] at (rel axis cs:0.828,0.435) {R² = 0.9978};
\end{axis}
\end{tikzpicture}
\end{document}
